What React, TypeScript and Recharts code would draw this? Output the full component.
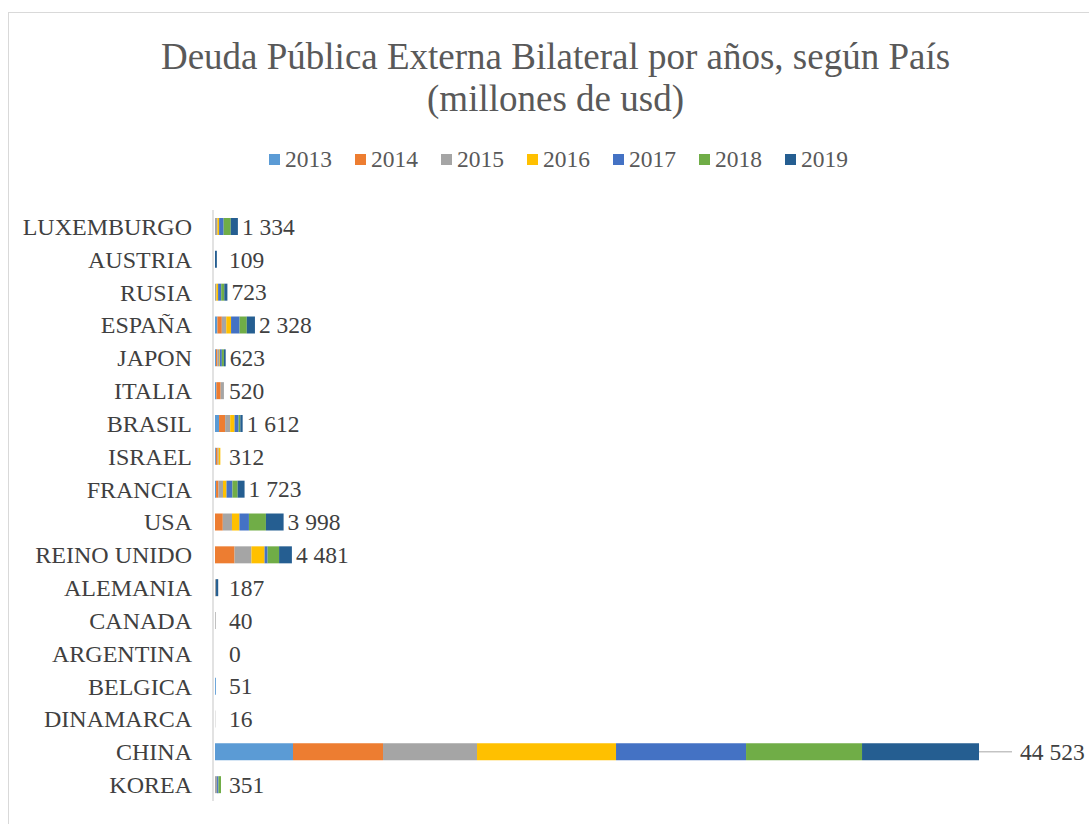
import React from 'react';
import { BarChart, Bar, XAxis, YAxis, LabelList } from 'recharts';

const countries = ['LUXEMBURGO', 'AUSTRIA', 'RUSIA', 'ESPAÑA', 'JAPON', 'ITALIA', 'BRASIL', 'ISRAEL', 'FRANCIA', 'USA', 'REINO UNIDO', 'ALEMANIA', 'CANADA', 'ARGENTINA', 'BELGICA', 'DINAMARCA', 'CHINA', 'KOREA'];
const years = ['2013', '2014', '2015', '2016', '2017', '2018', '2019'];
const colors = ['#5B9BD5', '#ED7D31', '#A5A5A5', '#FFC000', '#4472C4', '#70AD47', '#255E91'];

const v2013 = [0, 0, 0, 139, 60, 80, 236, 52, 61, 0, 0, 0, 0, 0, 51, 0, 4546, 0];
const v2014 = [0, 0, 0, 259, 80, 250, 354, 100, 142, 455, 1140, 0, 0, 0, 0, 0, 5245, 0];
const v2015 = [140, 0, 80, 259, 100, 190, 295, 60, 264, 534, 983, 60, 40, 0, 0, 16, 5478, 120];
const v2016 = [100, 0, 100, 279, 40, 0, 256, 100, 203, 435, 766, 0, 0, 0, 0, 0, 8101, 0];
const v2017 = [264, 0, 180, 498, 120, 0, 236, 0, 345, 554, 177, 0, 0, 0, 0, 0, 7576, 80];
const v2018 = [415, 0, 180, 418, 120, 0, 98, 0, 304, 990, 668, 0, 0, 0, 0, 0, 6760, 151];
const v2019 = [415, 109, 183, 476, 103, 0, 137, 0, 404, 1030, 747, 127, 0, 0, 0, 0, 6817, 0];

const series = [v2013, v2014, v2015, v2016, v2017, v2018, v2019];

const data = countries.map((c, i) => {
  const row: any = { name: c };
  years.forEach((y, k) => { row[y] = series[k][i]; });
  row.total = series.reduce((s, a) => s + a[i], 0);
  row.pad = 0.0001;
  return row;
});

const fmt = (n: number) => String(n).replace(/\B(?=(\d{3})+(?!\d))/g, ' ');

const FONT = '"Liberation Serif", "Times New Roman", serif';
const PLOT_LEFT = 213;

const TotalLabel = (props: any) => {
  const vb = props.viewBox || props;
  const xEnd = (vb.x || 0) + (vb.width || 0);
  const y = (vb.y || 0) + (vb.height || 0) / 2;
  const v = Number(props.value);
  if (v > 40000) {
    return (
      <g>
        <line x1={xEnd} y1={y} x2={xEnd + 33} y2={y} stroke="#A6A6A6" strokeWidth={1} />
        <text x={xEnd + 41} y={y} dy="0.35em" fontFamily={FONT} fontSize={23.5} fill="#404040">{fmt(v)}</text>
      </g>
    );
  }
  const x = Math.max(xEnd + 4, PLOT_LEFT + 16);
  return (
    <text x={x} y={y} dy="0.35em" fontFamily={FONT} fontSize={23.5} fill="#404040">{fmt(v)}</text>
  );
};

export default function App() {
  return (
    <div style={{ position: 'absolute', left: 0, top: 0, width: 1089, height: 824, background: '#fff', overflow: 'hidden', fontFamily: FONT }}>
      <div style={{ position: 'absolute', left: 8, top: 12, width: 1100, height: 840, border: '1px solid #D9D9D9', boxSizing: 'border-box' }} />
      <div style={{ position: 'absolute', left: 11, top: 36, width: 1089, textAlign: 'center', fontSize: 37, lineHeight: '42px', color: '#595959' }}>
        Deuda Pública Externa Bilateral por años, según País<br />(millones de usd)
      </div>
      <div style={{ position: 'absolute', left: 14, top: 145, width: 1089, display: 'flex', justifyContent: 'center', fontSize: 23.5, lineHeight: '28px', color: '#595959' }}>
        {years.map((y, k) => (
          <div key={y} style={{ display: 'flex', alignItems: 'center', marginRight: k < years.length - 1 ? 23 : 0 }}>
            <span style={{ display: 'inline-block', width: 11, height: 11, background: colors[k], marginRight: 5 }} />
            <span>{y}</span>
          </div>
        ))}
      </div>
      <div style={{ position: 'absolute', left: 0, top: 0 }}>
        <BarChart width={1089} height={824} data={data} layout="vertical" margin={{ top: 210, right: 16, bottom: 23, left: 0 }} barSize={17}>
          <XAxis type="number" domain={[0, 50000]} padding={{ left: 2, right: 0 }} hide />
          <YAxis
            type="category"
            dataKey="name"
            width={PLOT_LEFT}
            axisLine={{ stroke: '#D9D9D9', strokeWidth: 1.5 }}
            tickLine={false}
            tickSize={0}
            tickMargin={21}
            interval={0}
            tick={{ fontFamily: FONT, fontSize: 24, fill: '#404040' }}
          />
          {years.map((y, k) => (
            <Bar key={y} dataKey={y} stackId="a" fill={colors[k]} isAnimationActive={false} />
          ))}
          <Bar dataKey="pad" stackId="a" fill="none" isAnimationActive={false} legendType="none">
            <LabelList dataKey="total" content={TotalLabel} />
          </Bar>
        </BarChart>
      </div>
    </div>
  );
}
